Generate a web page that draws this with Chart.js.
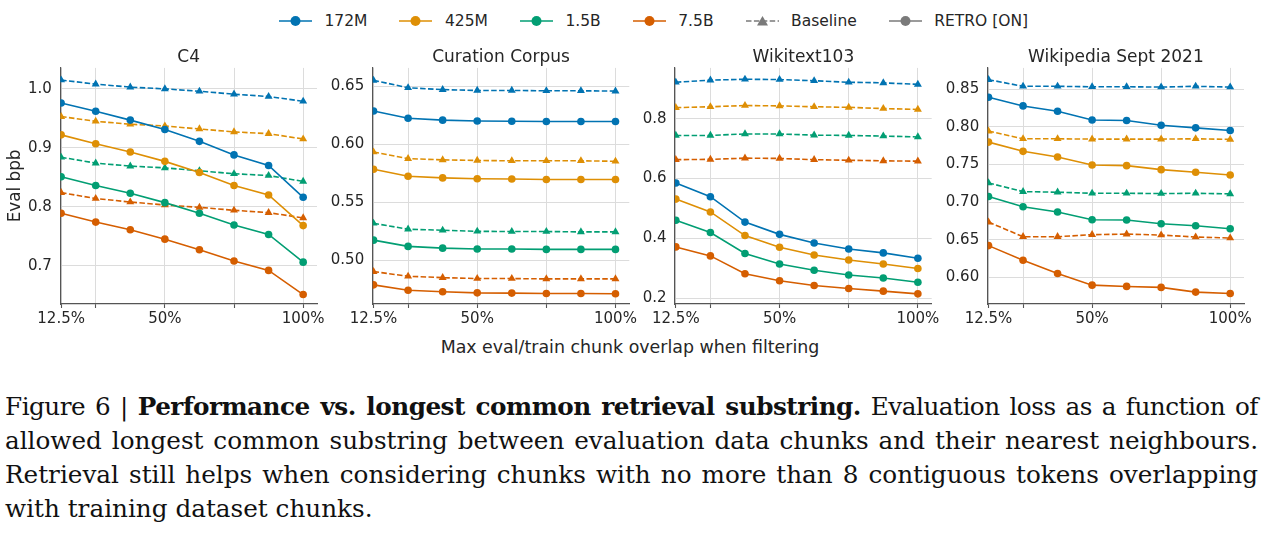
<!DOCTYPE html>
<html>
<head>
<meta charset="utf-8">
<script src="https://cdn.jsdelivr.net/npm/chart.js@4.4.0/dist/chart.umd.min.js"></script>
<style>
  body { margin: 0; background: #fff; width: 1265px; height: 534px; overflow: hidden; position: relative;
         font-family: "DejaVu Sans", sans-serif; color: #262626; }
  .panel { position: absolute; top: 30px; height: 300px; }
  #legend { position: absolute; left: 279px; top: 11px; height: 20px; display: flex; align-items: center; font-size: 15.5px; }
  #legend .item { display: flex; align-items: center; margin-right: 32px; }
  #legend svg { margin-right: 12.5px; }
  #xlabel { position: absolute; left: 0; width: 1260px; top: 336.5px; text-align: center; font-size: 17.4px; }
  #caption { position: absolute; left: 5px; width: 1253px; top: 389.5px; font-family: "DejaVu Serif", serif;
             font-size: 24.7px; line-height: 34px; color: #111; }
  #caption .j { text-align: justify; text-align-last: justify; }
  #caption .first { letter-spacing: -0.5px; }
</style>
</head>
<body>
<div id="legend"></div>

<canvas id="c4" class="panel"></canvas>
<canvas id="curation" class="panel"></canvas>
<canvas id="wikitext" class="panel"></canvas>
<canvas id="wikipedia" class="panel"></canvas>

<div id="xlabel">Max eval/train chunk overlap when filtering</div>

<div id="caption">
  <div class="j first">Figure 6 | <b>Performance vs. longest common retrieval substring.</b> Evaluation loss as a function of</div>
  <div class="j">allowed longest common substring between evaluation data chunks and their nearest neighbours.</div>
  <div class="j">Retrieval still helps when considering chunks with no more than 8 contiguous tokens overlapping</div>
  <div>with training dataset chunks.</div>
</div>

<script>
// x values (max overlap, %) and axis ticks
var overlapPct = [12.5, 25, 37.5, 50, 62.5, 75, 87.5, 100];
var xGridTicks = [12.5, 25, 50, 75, 100];
var xLabelTicks = [12.5, 50, 100];
var xTickLabels = ["12.5%", "50%", "100%"];

var modelSizes = ["172M", "425M", "1.5B", "7.5B"];
var modelColors = ["#0173b2", "#de8f05", "#029e73", "#d55e00"];
var panelTitles = ["C4", "Curation Corpus", "Wikitext103", "Wikipedia Sept 2021"];

// rows = 172M, 425M, 1.5B, 7.5B
var c4Baseline = [
    [1.015, 1.008, 1.003, 1.000, 0.996, 0.991, 0.987, 0.979],
    [0.953, 0.945, 0.940, 0.937, 0.932, 0.927, 0.924, 0.915],
    [0.884, 0.874, 0.869, 0.866, 0.861, 0.856, 0.853, 0.843],
    [0.824, 0.814, 0.808, 0.803, 0.799, 0.794, 0.790, 0.781]
];
var c4Retro = [
    [0.976, 0.962, 0.947, 0.931, 0.911, 0.888, 0.870, 0.816],
    [0.922, 0.907, 0.893, 0.877, 0.858, 0.836, 0.820, 0.768],
    [0.851, 0.836, 0.823, 0.807, 0.789, 0.769, 0.753, 0.706],
    [0.789, 0.774, 0.761, 0.745, 0.727, 0.708, 0.692, 0.651]
];
var c4Ticks = [0.7, 0.8, 0.9, 1.0];

var curationBaseline = [
    [0.655, 0.6486, 0.647, 0.6463, 0.6463, 0.646, 0.646, 0.6457],
    [0.5933, 0.5876, 0.5865, 0.586, 0.5857, 0.5857, 0.5857, 0.5853],
    [0.5319, 0.5268, 0.5259, 0.525, 0.5248, 0.5248, 0.5245, 0.5245],
    [0.4903, 0.4863, 0.4851, 0.4843, 0.4843, 0.484, 0.484, 0.484]
];
var curationRetro = [
    [0.6286, 0.6224, 0.6207, 0.620, 0.6197, 0.6195, 0.6195, 0.6195],
    [0.5784, 0.5724, 0.571, 0.5702, 0.570, 0.5696, 0.5696, 0.5696],
    [0.5174, 0.512, 0.5105, 0.5097, 0.5097, 0.5094, 0.5094, 0.5094],
    [0.4789, 0.4743, 0.4729, 0.472, 0.4718, 0.4715, 0.4715, 0.4712]
];
var curationTicks = [0.50, 0.55, 0.60, 0.65];

var wikitextBaseline = [
    [0.922, 0.929, 0.932, 0.931, 0.927, 0.922, 0.920, 0.915],
    [0.837, 0.840, 0.844, 0.843, 0.840, 0.838, 0.834, 0.831],
    [0.744, 0.744, 0.749, 0.749, 0.745, 0.744, 0.742, 0.739],
    [0.663, 0.664, 0.668, 0.667, 0.663, 0.661, 0.659, 0.658]
];
var wikitextRetro = [
    [0.585, 0.539, 0.454, 0.413, 0.384, 0.364, 0.351, 0.333],
    [0.531, 0.488, 0.409, 0.370, 0.344, 0.327, 0.314, 0.299],
    [0.460, 0.419, 0.349, 0.314, 0.293, 0.277, 0.267, 0.253],
    [0.371, 0.341, 0.281, 0.258, 0.242, 0.232, 0.223, 0.214]
];
var wikitextTicks = [0.2, 0.4, 0.6, 0.8];

var wikipediaBaseline = [
    [0.8624, 0.8536, 0.8536, 0.853, 0.853, 0.8526, 0.8536, 0.8526],
    [0.7942, 0.784, 0.784, 0.7836, 0.7836, 0.7836, 0.784, 0.7832],
    [0.7255, 0.714, 0.7132, 0.7118, 0.7118, 0.7114, 0.7118, 0.711],
    [0.6736, 0.6542, 0.6542, 0.6569, 0.6577, 0.6564, 0.6538, 0.6525]
];
var wikipediaRetro = [
    [0.839, 0.8276, 0.8206, 0.809, 0.8083, 0.802, 0.7985, 0.795],
    [0.7796, 0.7674, 0.7598, 0.7493, 0.7484, 0.7431, 0.7396, 0.736],
    [0.7075, 0.6939, 0.6869, 0.6767, 0.6763, 0.6714, 0.6688, 0.6648],
    [0.6424, 0.623, 0.6054, 0.590, 0.5883, 0.587, 0.5808, 0.579]
];
var wikipediaTicks = [0.60, 0.65, 0.70, 0.75, 0.80, 0.85];

var textColor = "#262626";
var gridColor = "#dcdcdc";
var spineColor = "#555555";

function pares(valores) {
    var pts = [];
    for (var i = 0; i < overlapPct.length; i++) {
        pts.push({ x: overlapPct[i], y: valores[i] });
    }
    return pts;
}

function montarDatasets(baseline, retro) {
    var ds = [];
    for (var i = 0; i < modelSizes.length; i++) {
        ds.push({
            label: modelSizes[i] + " Baseline",
            data: pares(baseline[i]),
            borderColor: modelColors[i],
            backgroundColor: modelColors[i],
            borderWidth: 1.6,
            borderDash: [5.5, 2.4],
            pointStyle: "triangle",
            pointRadius: 4.6,
            pointBorderWidth: 0,
            tension: 0
        });
        ds.push({
            label: modelSizes[i] + " RETRO",
            data: pares(retro[i]),
            borderColor: modelColors[i],
            backgroundColor: modelColors[i],
            borderWidth: 1.6,
            pointStyle: "circle",
            pointRadius: 3.8,
            pointBorderWidth: 0,
            tension: 0
        });
    }
    return ds;
}

function criarPainel(id, titulo, baseline, retro, yTicks, casas, yMin, yMax, geo, yTitulo) {
    var canvas = document.getElementById(id);
    canvas.width = geo.width;
    canvas.height = 300;
    canvas.style.left = geo.left + "px";
    canvas.style.width = geo.width + "px";

    var yAxisWidth = geo.plotLeft - geo.left;
    var padRight = geo.left + geo.width - geo.plotRight;

    new Chart(canvas.getContext("2d"), {
        type: "line",
        data: { datasets: montarDatasets(baseline, retro) },
        options: {
            responsive: false,
            animation: false,
            layout: { padding: { left: 0, right: padRight, top: 0, bottom: 0 } },
            plugins: {
                legend: { display: false },
                tooltip: { enabled: false },
                title: {
                    display: true,
                    text: titulo,
                    fullSize: false,
                    color: textColor,
                    font: { family: "DejaVu Sans", size: 17, weight: "normal" },
                    padding: { top: 17.5, bottom: 0 }
                }
            },
            scales: {
                x: {
                    type: "linear",
                    min: 12.2,
                    max: 105,
                    afterBuildTicks: function (s) {
                        s.ticks = xGridTicks.map(function (v) { return { value: v }; });
                    },
                    afterFit: function (s) { s.height = 26; },
                    ticks: {
                        autoSkip: false,
                        maxRotation: 0,
                        padding: 2,
                        color: textColor,
                        font: { family: "DejaVu Sans", size: 15 },
                        callback: function (v) {
                            var k = xLabelTicks.indexOf(v);
                            return k >= 0 ? xTickLabels[k] : "";
                        }
                    },
                    grid: { color: gridColor, lineWidth: 1, drawTicks: true, tickLength: 4, tickColor: spineColor, tickWidth: 1.1 },
                    border: { color: spineColor, width: 1.2 }
                },
                y: {
                    type: "linear",
                    min: yMin,
                    max: yMax,
                    afterBuildTicks: function (s) {
                        s.ticks = yTicks.map(function (v) { return { value: v }; });
                    },
                    afterFit: function (s) { s.width = yAxisWidth; },
                    ticks: {
                        padding: 8.5,
                        color: textColor,
                        font: { family: "DejaVu Sans", size: 15 },
                        callback: function (v) { return Number(v).toFixed(casas); }
                    },
                    grid: { color: gridColor, lineWidth: 1, drawTicks: false },
                    border: { color: spineColor, width: 1.2 },
                    title: {
                        display: yTitulo,
                        text: "Eval bpb",
                        color: textColor,
                        font: { family: "DejaVu Sans", size: 16.8 },
                        padding: { top: 6, bottom: 0 }
                    }
                }
            }
        }
    });
}

criarPainel("c4", panelTitles[0], c4Baseline, c4Retro, c4Ticks, 1, 0.635, 1.0356,
    { left: 0, width: 345, plotLeft: 60.3, plotRight: 317 }, true);
criarPainel("curation", panelTitles[1], curationBaseline, curationRetro, curationTicks, 2, 0.4624, 0.6657,
    { left: 320, width: 330, plotLeft: 372.7, plotRight: 629.3 }, false);
criarPainel("wikitext", panelTitles[2], wikitextBaseline, wikitextRetro, wikitextTicks, 1, 0.18, 0.97,
    { left: 625, width: 335, plotLeft: 675, plotRight: 931.7 }, false);
criarPainel("wikipedia", panelTitles[3], wikipediaBaseline, wikipediaRetro, wikipediaTicks, 2, 0.565, 0.878,
    { left: 930, width: 335, plotLeft: 987.7, plotRight: 1244 }, false);

// legend
function icone(cor, tracejado, triangulo) {
    var dash = tracejado ? ' stroke-dasharray="5.5 2.4"' : "";
    var marca = triangulo
        ? '<polygon points="16.5,2 22,11.5 11,11.5" fill="' + cor + '"/>'
        : '<circle cx="16.5" cy="7" r="5" fill="' + cor + '"/>';
    return '<svg width="33" height="14"><line x1="0" y1="7" x2="33" y2="7" stroke="' + cor +
        '" stroke-width="1.6"' + dash + '/>' + marca + '</svg>';
}

var legenda = document.getElementById("legend");
var html = "";
for (var i = 0; i < modelSizes.length; i++) {
    html += '<div class="item">' + icone(modelColors[i], false, false) + '<span>' + modelSizes[i] + '</span></div>';
}
html += '<div class="item">' + icone("#7a7a7a", true, true) + '<span>Baseline</span></div>';
html += '<div class="item">' + icone("#7a7a7a", false, false) + '<span>RETRO [ON]</span></div>';
legenda.innerHTML = html;
</script>
</body>
</html>
